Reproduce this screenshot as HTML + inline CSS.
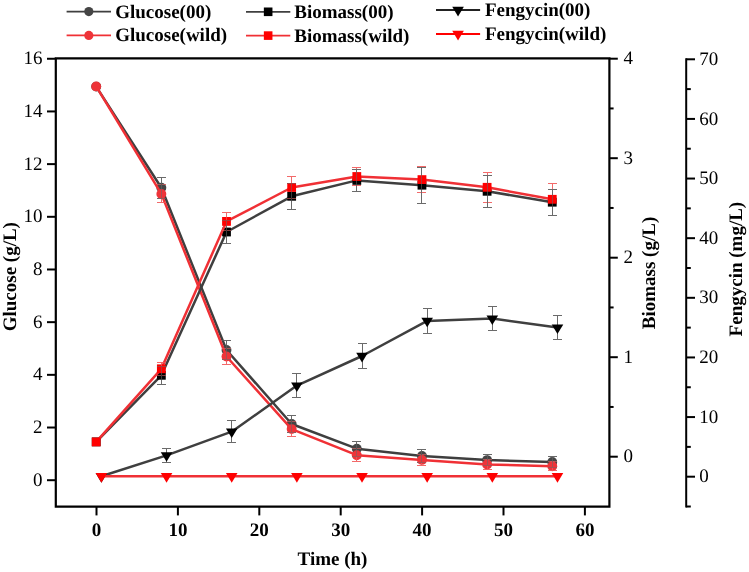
<!DOCTYPE html>
<html><head><meta charset="utf-8"><style>
html,body{margin:0;padding:0;background:#fff;}
svg{display:block;will-change:transform;}
text{font-family:"Liberation Serif",serif;fill:#000;text-rendering:geometricPrecision;}
</style></head><body>
<svg width="749" height="572" viewBox="0 0 749 572">
<rect width="749" height="572" fill="#fff"/>
<path d="M55.8,58.3 H609.4 V506.6 H55.8 Z" fill="none" stroke="#000" stroke-width="2.2"/>
<line x1="47.00" y1="480.20" x2="55.80" y2="480.20" stroke="#000" stroke-width="2" />
<text x="42.60" y="485.80" font-size="19" font-weight="normal" text-anchor="end" >0</text>
<line x1="47.00" y1="427.52" x2="55.80" y2="427.52" stroke="#000" stroke-width="2" />
<text x="42.60" y="433.12" font-size="19" font-weight="normal" text-anchor="end" >2</text>
<line x1="47.00" y1="374.84" x2="55.80" y2="374.84" stroke="#000" stroke-width="2" />
<text x="42.60" y="380.44" font-size="19" font-weight="normal" text-anchor="end" >4</text>
<line x1="47.00" y1="322.16" x2="55.80" y2="322.16" stroke="#000" stroke-width="2" />
<text x="42.60" y="327.76" font-size="19" font-weight="normal" text-anchor="end" >6</text>
<line x1="47.00" y1="269.48" x2="55.80" y2="269.48" stroke="#000" stroke-width="2" />
<text x="42.60" y="275.08" font-size="19" font-weight="normal" text-anchor="end" >8</text>
<line x1="47.00" y1="216.80" x2="55.80" y2="216.80" stroke="#000" stroke-width="2" />
<text x="42.60" y="222.40" font-size="19" font-weight="normal" text-anchor="end" >10</text>
<line x1="47.00" y1="164.12" x2="55.80" y2="164.12" stroke="#000" stroke-width="2" />
<text x="42.60" y="169.72" font-size="19" font-weight="normal" text-anchor="end" >12</text>
<line x1="47.00" y1="111.44" x2="55.80" y2="111.44" stroke="#000" stroke-width="2" />
<text x="42.60" y="117.04" font-size="19" font-weight="normal" text-anchor="end" >14</text>
<line x1="47.00" y1="58.76" x2="55.80" y2="58.76" stroke="#000" stroke-width="2" />
<text x="42.60" y="64.36" font-size="19" font-weight="normal" text-anchor="end" >16</text>
<line x1="96.50" y1="506.60" x2="96.50" y2="515.40" stroke="#000" stroke-width="2" />
<text x="96.50" y="536.10" font-size="19" font-weight="bold" text-anchor="middle" >0</text>
<line x1="177.90" y1="506.60" x2="177.90" y2="515.40" stroke="#000" stroke-width="2" />
<text x="177.90" y="536.10" font-size="19" font-weight="bold" text-anchor="middle" >10</text>
<line x1="259.30" y1="506.60" x2="259.30" y2="515.40" stroke="#000" stroke-width="2" />
<text x="259.30" y="536.10" font-size="19" font-weight="bold" text-anchor="middle" >20</text>
<line x1="340.70" y1="506.60" x2="340.70" y2="515.40" stroke="#000" stroke-width="2" />
<text x="340.70" y="536.10" font-size="19" font-weight="bold" text-anchor="middle" >30</text>
<line x1="422.10" y1="506.60" x2="422.10" y2="515.40" stroke="#000" stroke-width="2" />
<text x="422.10" y="536.10" font-size="19" font-weight="bold" text-anchor="middle" >40</text>
<line x1="503.50" y1="506.60" x2="503.50" y2="515.40" stroke="#000" stroke-width="2" />
<text x="503.50" y="536.10" font-size="19" font-weight="bold" text-anchor="middle" >50</text>
<line x1="584.90" y1="506.60" x2="584.90" y2="515.40" stroke="#000" stroke-width="2" />
<text x="584.90" y="536.10" font-size="19" font-weight="bold" text-anchor="middle" >60</text>
<line x1="609.40" y1="456.70" x2="617.80" y2="456.70" stroke="#000" stroke-width="2" />
<text x="623.60" y="462.30" font-size="19" font-weight="normal" text-anchor="start" >0</text>
<line x1="609.40" y1="406.95" x2="613.60" y2="406.95" stroke="#000" stroke-width="2" />
<line x1="609.40" y1="357.20" x2="617.80" y2="357.20" stroke="#000" stroke-width="2" />
<text x="623.60" y="362.80" font-size="19" font-weight="normal" text-anchor="start" >1</text>
<line x1="609.40" y1="307.45" x2="613.60" y2="307.45" stroke="#000" stroke-width="2" />
<line x1="609.40" y1="257.70" x2="617.80" y2="257.70" stroke="#000" stroke-width="2" />
<text x="623.60" y="263.30" font-size="19" font-weight="normal" text-anchor="start" >2</text>
<line x1="609.40" y1="207.95" x2="613.60" y2="207.95" stroke="#000" stroke-width="2" />
<line x1="609.40" y1="158.20" x2="617.80" y2="158.20" stroke="#000" stroke-width="2" />
<text x="623.60" y="163.80" font-size="19" font-weight="normal" text-anchor="start" >3</text>
<line x1="609.40" y1="108.45" x2="613.60" y2="108.45" stroke="#000" stroke-width="2" />
<line x1="609.40" y1="58.70" x2="617.80" y2="58.70" stroke="#000" stroke-width="2" />
<text x="623.60" y="64.30" font-size="19" font-weight="normal" text-anchor="start" >4</text>
<line x1="686.20" y1="58.29" x2="686.20" y2="507.51" stroke="#000" stroke-width="2" />
<line x1="686.20" y1="506.51" x2="690.80" y2="506.51" stroke="#000" stroke-width="2" />
<line x1="686.20" y1="476.70" x2="695.00" y2="476.70" stroke="#000" stroke-width="2" />
<text x="699.20" y="482.30" font-size="19" font-weight="normal" text-anchor="start" >0</text>
<line x1="686.20" y1="446.88" x2="690.80" y2="446.88" stroke="#000" stroke-width="2" />
<line x1="686.20" y1="417.07" x2="695.00" y2="417.07" stroke="#000" stroke-width="2" />
<text x="699.20" y="422.67" font-size="19" font-weight="normal" text-anchor="start" >10</text>
<line x1="686.20" y1="387.25" x2="690.80" y2="387.25" stroke="#000" stroke-width="2" />
<line x1="686.20" y1="357.44" x2="695.00" y2="357.44" stroke="#000" stroke-width="2" />
<text x="699.20" y="363.04" font-size="19" font-weight="normal" text-anchor="start" >20</text>
<line x1="686.20" y1="327.62" x2="690.80" y2="327.62" stroke="#000" stroke-width="2" />
<line x1="686.20" y1="297.81" x2="695.00" y2="297.81" stroke="#000" stroke-width="2" />
<text x="699.20" y="303.41" font-size="19" font-weight="normal" text-anchor="start" >30</text>
<line x1="686.20" y1="268.00" x2="690.80" y2="268.00" stroke="#000" stroke-width="2" />
<line x1="686.20" y1="238.18" x2="695.00" y2="238.18" stroke="#000" stroke-width="2" />
<text x="699.20" y="243.78" font-size="19" font-weight="normal" text-anchor="start" >40</text>
<line x1="686.20" y1="208.37" x2="690.80" y2="208.37" stroke="#000" stroke-width="2" />
<line x1="686.20" y1="178.55" x2="695.00" y2="178.55" stroke="#000" stroke-width="2" />
<text x="699.20" y="184.15" font-size="19" font-weight="normal" text-anchor="start" >50</text>
<line x1="686.20" y1="148.73" x2="690.80" y2="148.73" stroke="#000" stroke-width="2" />
<line x1="686.20" y1="118.92" x2="695.00" y2="118.92" stroke="#000" stroke-width="2" />
<text x="699.20" y="124.52" font-size="19" font-weight="normal" text-anchor="start" >60</text>
<line x1="686.20" y1="89.10" x2="690.80" y2="89.10" stroke="#000" stroke-width="2" />
<line x1="686.20" y1="59.29" x2="695.00" y2="59.29" stroke="#000" stroke-width="2" />
<text x="699.20" y="64.89" font-size="19" font-weight="normal" text-anchor="start" >70</text>
<text x="332.50" y="565.20" font-size="19" font-weight="bold" text-anchor="middle" >Time (h)</text>
<text x="0.00" y="0.00" font-size="19" font-weight="bold" text-anchor="middle" transform="translate(16,276.7) rotate(-90)">Glucose (g/L)</text>
<text x="0.00" y="0.00" font-size="19" font-weight="bold" text-anchor="middle" transform="translate(655,273) rotate(-90)">Biomass (g/L)</text>
<text x="0.00" y="0.00" font-size="19" font-weight="bold" text-anchor="middle" transform="translate(741.7,269.1) rotate(-90)">Fengycin (mg/L)</text>
<line x1="161.50" y1="184.50" x2="161.50" y2="202.50" stroke="#f26a6a" stroke-width="1" />
<line x1="157.00" y1="184.50" x2="166.00" y2="184.50" stroke="#f26a6a" stroke-width="1" />
<line x1="157.00" y1="202.50" x2="166.00" y2="202.50" stroke="#f26a6a" stroke-width="1" />
<line x1="226.50" y1="348.50" x2="226.50" y2="364.50" stroke="#f26a6a" stroke-width="1" />
<line x1="222.00" y1="348.50" x2="231.00" y2="348.50" stroke="#f26a6a" stroke-width="1" />
<line x1="222.00" y1="364.50" x2="231.00" y2="364.50" stroke="#f26a6a" stroke-width="1" />
<line x1="291.50" y1="421.50" x2="291.50" y2="436.50" stroke="#f26a6a" stroke-width="1" />
<line x1="287.00" y1="421.50" x2="296.00" y2="421.50" stroke="#f26a6a" stroke-width="1" />
<line x1="287.00" y1="436.50" x2="296.00" y2="436.50" stroke="#f26a6a" stroke-width="1" />
<line x1="356.50" y1="448.50" x2="356.50" y2="461.50" stroke="#f26a6a" stroke-width="1" />
<line x1="352.00" y1="448.50" x2="361.00" y2="448.50" stroke="#f26a6a" stroke-width="1" />
<line x1="352.00" y1="461.50" x2="361.00" y2="461.50" stroke="#f26a6a" stroke-width="1" />
<line x1="421.50" y1="454.50" x2="421.50" y2="465.50" stroke="#f26a6a" stroke-width="1" />
<line x1="417.00" y1="454.50" x2="426.00" y2="454.50" stroke="#f26a6a" stroke-width="1" />
<line x1="417.00" y1="465.50" x2="426.00" y2="465.50" stroke="#f26a6a" stroke-width="1" />
<line x1="487.50" y1="459.50" x2="487.50" y2="469.50" stroke="#f26a6a" stroke-width="1" />
<line x1="483.00" y1="459.50" x2="492.00" y2="459.50" stroke="#f26a6a" stroke-width="1" />
<line x1="483.00" y1="469.50" x2="492.00" y2="469.50" stroke="#f26a6a" stroke-width="1" />
<line x1="552.50" y1="461.50" x2="552.50" y2="470.50" stroke="#f26a6a" stroke-width="1" />
<line x1="548.00" y1="461.50" x2="557.00" y2="461.50" stroke="#f26a6a" stroke-width="1" />
<line x1="548.00" y1="470.50" x2="557.00" y2="470.50" stroke="#f26a6a" stroke-width="1" />
<line x1="161.50" y1="362.50" x2="161.50" y2="375.50" stroke="#f26a6a" stroke-width="1" />
<line x1="157.00" y1="362.50" x2="166.00" y2="362.50" stroke="#f26a6a" stroke-width="1" />
<line x1="157.00" y1="375.50" x2="166.00" y2="375.50" stroke="#f26a6a" stroke-width="1" />
<line x1="226.50" y1="212.50" x2="226.50" y2="230.50" stroke="#f26a6a" stroke-width="1" />
<line x1="222.00" y1="212.50" x2="231.00" y2="212.50" stroke="#f26a6a" stroke-width="1" />
<line x1="222.00" y1="230.50" x2="231.00" y2="230.50" stroke="#f26a6a" stroke-width="1" />
<line x1="291.50" y1="176.50" x2="291.50" y2="198.50" stroke="#f26a6a" stroke-width="1" />
<line x1="287.00" y1="176.50" x2="296.00" y2="176.50" stroke="#f26a6a" stroke-width="1" />
<line x1="287.00" y1="198.50" x2="296.00" y2="198.50" stroke="#f26a6a" stroke-width="1" />
<line x1="356.50" y1="167.50" x2="356.50" y2="185.50" stroke="#f26a6a" stroke-width="1" />
<line x1="352.00" y1="167.50" x2="361.00" y2="167.50" stroke="#f26a6a" stroke-width="1" />
<line x1="352.00" y1="185.50" x2="361.00" y2="185.50" stroke="#f26a6a" stroke-width="1" />
<line x1="421.50" y1="166.50" x2="421.50" y2="192.50" stroke="#f26a6a" stroke-width="1" />
<line x1="417.00" y1="166.50" x2="426.00" y2="166.50" stroke="#f26a6a" stroke-width="1" />
<line x1="417.00" y1="192.50" x2="426.00" y2="192.50" stroke="#f26a6a" stroke-width="1" />
<line x1="487.50" y1="172.50" x2="487.50" y2="202.50" stroke="#f26a6a" stroke-width="1" />
<line x1="483.00" y1="172.50" x2="492.00" y2="172.50" stroke="#f26a6a" stroke-width="1" />
<line x1="483.00" y1="202.50" x2="492.00" y2="202.50" stroke="#f26a6a" stroke-width="1" />
<line x1="552.50" y1="183.50" x2="552.50" y2="215.50" stroke="#f26a6a" stroke-width="1" />
<line x1="548.00" y1="183.50" x2="557.00" y2="183.50" stroke="#f26a6a" stroke-width="1" />
<line x1="548.00" y1="215.50" x2="557.00" y2="215.50" stroke="#f26a6a" stroke-width="1" />
<line x1="161.50" y1="177.50" x2="161.50" y2="198.50" stroke="#6a6a6a" stroke-width="1" />
<line x1="157.00" y1="177.50" x2="166.00" y2="177.50" stroke="#6a6a6a" stroke-width="1" />
<line x1="157.00" y1="198.50" x2="166.00" y2="198.50" stroke="#6a6a6a" stroke-width="1" />
<line x1="226.50" y1="340.50" x2="226.50" y2="359.50" stroke="#6a6a6a" stroke-width="1" />
<line x1="222.00" y1="340.50" x2="231.00" y2="340.50" stroke="#6a6a6a" stroke-width="1" />
<line x1="222.00" y1="359.50" x2="231.00" y2="359.50" stroke="#6a6a6a" stroke-width="1" />
<line x1="291.50" y1="415.50" x2="291.50" y2="432.50" stroke="#6a6a6a" stroke-width="1" />
<line x1="287.00" y1="415.50" x2="296.00" y2="415.50" stroke="#6a6a6a" stroke-width="1" />
<line x1="287.00" y1="432.50" x2="296.00" y2="432.50" stroke="#6a6a6a" stroke-width="1" />
<line x1="356.50" y1="441.50" x2="356.50" y2="456.50" stroke="#6a6a6a" stroke-width="1" />
<line x1="352.00" y1="441.50" x2="361.00" y2="441.50" stroke="#6a6a6a" stroke-width="1" />
<line x1="352.00" y1="456.50" x2="361.00" y2="456.50" stroke="#6a6a6a" stroke-width="1" />
<line x1="421.50" y1="449.50" x2="421.50" y2="462.50" stroke="#6a6a6a" stroke-width="1" />
<line x1="417.00" y1="449.50" x2="426.00" y2="449.50" stroke="#6a6a6a" stroke-width="1" />
<line x1="417.00" y1="462.50" x2="426.00" y2="462.50" stroke="#6a6a6a" stroke-width="1" />
<line x1="487.50" y1="454.50" x2="487.50" y2="465.50" stroke="#6a6a6a" stroke-width="1" />
<line x1="483.00" y1="454.50" x2="492.00" y2="454.50" stroke="#6a6a6a" stroke-width="1" />
<line x1="483.00" y1="465.50" x2="492.00" y2="465.50" stroke="#6a6a6a" stroke-width="1" />
<line x1="552.50" y1="456.50" x2="552.50" y2="467.50" stroke="#6a6a6a" stroke-width="1" />
<line x1="548.00" y1="456.50" x2="557.00" y2="456.50" stroke="#6a6a6a" stroke-width="1" />
<line x1="548.00" y1="467.50" x2="557.00" y2="467.50" stroke="#6a6a6a" stroke-width="1" />
<line x1="161.50" y1="366.50" x2="161.50" y2="384.50" stroke="#6a6a6a" stroke-width="1" />
<line x1="157.00" y1="366.50" x2="166.00" y2="366.50" stroke="#6a6a6a" stroke-width="1" />
<line x1="157.00" y1="384.50" x2="166.00" y2="384.50" stroke="#6a6a6a" stroke-width="1" />
<line x1="226.50" y1="220.50" x2="226.50" y2="243.50" stroke="#6a6a6a" stroke-width="1" />
<line x1="222.00" y1="220.50" x2="231.00" y2="220.50" stroke="#6a6a6a" stroke-width="1" />
<line x1="222.00" y1="243.50" x2="231.00" y2="243.50" stroke="#6a6a6a" stroke-width="1" />
<line x1="291.50" y1="183.50" x2="291.50" y2="209.50" stroke="#6a6a6a" stroke-width="1" />
<line x1="287.00" y1="183.50" x2="296.00" y2="183.50" stroke="#6a6a6a" stroke-width="1" />
<line x1="287.00" y1="209.50" x2="296.00" y2="209.50" stroke="#6a6a6a" stroke-width="1" />
<line x1="356.50" y1="169.50" x2="356.50" y2="191.50" stroke="#6a6a6a" stroke-width="1" />
<line x1="352.00" y1="169.50" x2="361.00" y2="169.50" stroke="#6a6a6a" stroke-width="1" />
<line x1="352.00" y1="191.50" x2="361.00" y2="191.50" stroke="#6a6a6a" stroke-width="1" />
<line x1="421.50" y1="167.50" x2="421.50" y2="203.50" stroke="#6a6a6a" stroke-width="1" />
<line x1="417.00" y1="167.50" x2="426.00" y2="167.50" stroke="#6a6a6a" stroke-width="1" />
<line x1="417.00" y1="203.50" x2="426.00" y2="203.50" stroke="#6a6a6a" stroke-width="1" />
<line x1="487.50" y1="175.50" x2="487.50" y2="207.50" stroke="#6a6a6a" stroke-width="1" />
<line x1="483.00" y1="175.50" x2="492.00" y2="175.50" stroke="#6a6a6a" stroke-width="1" />
<line x1="483.00" y1="207.50" x2="492.00" y2="207.50" stroke="#6a6a6a" stroke-width="1" />
<line x1="552.50" y1="189.50" x2="552.50" y2="215.50" stroke="#6a6a6a" stroke-width="1" />
<line x1="548.00" y1="189.50" x2="557.00" y2="189.50" stroke="#6a6a6a" stroke-width="1" />
<line x1="548.00" y1="215.50" x2="557.00" y2="215.50" stroke="#6a6a6a" stroke-width="1" />
<polyline fill="none" stroke="#3f3f3f" stroke-width="2.5" stroke-linejoin="round" points="96.20,86.60 161.35,187.80 226.50,350.00 291.66,424.00 356.81,448.70 421.96,455.90 487.11,460.10 552.26,461.90"/>
<circle cx="96.20" cy="86.60" r="4.95" fill="#454545"/>
<circle cx="161.35" cy="187.80" r="4.95" fill="#454545"/>
<circle cx="226.50" cy="350.00" r="4.95" fill="#454545"/>
<circle cx="291.66" cy="424.00" r="4.95" fill="#454545"/>
<circle cx="356.81" cy="448.70" r="4.95" fill="#454545"/>
<circle cx="421.96" cy="455.90" r="4.95" fill="#454545"/>
<circle cx="487.11" cy="460.10" r="4.95" fill="#454545"/>
<circle cx="552.26" cy="461.90" r="4.95" fill="#454545"/>
<polyline fill="none" stroke="#f03035" stroke-width="2.5" stroke-linejoin="round" points="96.20,86.40 161.35,193.90 226.50,356.50 291.66,429.10 356.81,455.20 421.96,459.90 487.11,464.50 552.26,466.20"/>
<circle cx="96.20" cy="86.40" r="4.95" fill="#ee3439"/>
<circle cx="161.35" cy="193.90" r="4.95" fill="#ee3439"/>
<circle cx="226.50" cy="356.50" r="4.95" fill="#ee3439"/>
<circle cx="291.66" cy="429.10" r="4.95" fill="#ee3439"/>
<circle cx="356.81" cy="455.20" r="4.95" fill="#ee3439"/>
<circle cx="421.96" cy="459.90" r="4.95" fill="#ee3439"/>
<circle cx="487.11" cy="464.50" r="4.95" fill="#ee3439"/>
<circle cx="552.26" cy="466.20" r="4.95" fill="#ee3439"/>
<polyline fill="none" stroke="#3f3f3f" stroke-width="2.5" stroke-linejoin="round" points="96.20,441.90 161.35,375.30 226.50,232.00 291.66,196.30 356.81,180.40 421.96,185.20 487.11,191.30 552.26,202.20"/>
<rect x="91.80" y="437.50" width="8.8" height="8.8" fill="#000"/>
<rect x="156.95" y="370.90" width="8.8" height="8.8" fill="#000"/>
<rect x="222.10" y="227.60" width="8.8" height="8.8" fill="#000"/>
<rect x="287.26" y="191.90" width="8.8" height="8.8" fill="#000"/>
<rect x="352.41" y="176.00" width="8.8" height="8.8" fill="#000"/>
<rect x="417.56" y="180.80" width="8.8" height="8.8" fill="#000"/>
<rect x="482.71" y="186.90" width="8.8" height="8.8" fill="#000"/>
<rect x="547.86" y="197.80" width="8.8" height="8.8" fill="#000"/>
<polyline fill="none" stroke="#f03035" stroke-width="2.5" stroke-linejoin="round" points="96.20,441.90 161.35,368.80 226.50,221.40 291.66,187.50 356.81,176.50 421.96,179.60 487.11,187.30 552.26,199.30"/>
<rect x="91.80" y="437.50" width="8.8" height="8.8" fill="#ff0000"/>
<rect x="156.95" y="364.40" width="8.8" height="8.8" fill="#ff0000"/>
<rect x="222.10" y="217.00" width="8.8" height="8.8" fill="#ff0000"/>
<rect x="287.26" y="183.10" width="8.8" height="8.8" fill="#ff0000"/>
<rect x="352.41" y="172.10" width="8.8" height="8.8" fill="#ff0000"/>
<rect x="417.56" y="175.20" width="8.8" height="8.8" fill="#ff0000"/>
<rect x="482.71" y="182.90" width="8.8" height="8.8" fill="#ff0000"/>
<rect x="547.86" y="194.90" width="8.8" height="8.8" fill="#ff0000"/>
<g opacity="0.55">
<line x1="161.50" y1="184.50" x2="161.50" y2="202.50" stroke="#f26a6a" stroke-width="1" />
<line x1="157.00" y1="184.50" x2="166.00" y2="184.50" stroke="#f26a6a" stroke-width="1" />
<line x1="157.00" y1="202.50" x2="166.00" y2="202.50" stroke="#f26a6a" stroke-width="1" />
<line x1="226.50" y1="348.50" x2="226.50" y2="364.50" stroke="#f26a6a" stroke-width="1" />
<line x1="222.00" y1="348.50" x2="231.00" y2="348.50" stroke="#f26a6a" stroke-width="1" />
<line x1="222.00" y1="364.50" x2="231.00" y2="364.50" stroke="#f26a6a" stroke-width="1" />
<line x1="291.50" y1="421.50" x2="291.50" y2="436.50" stroke="#f26a6a" stroke-width="1" />
<line x1="287.00" y1="421.50" x2="296.00" y2="421.50" stroke="#f26a6a" stroke-width="1" />
<line x1="287.00" y1="436.50" x2="296.00" y2="436.50" stroke="#f26a6a" stroke-width="1" />
<line x1="356.50" y1="448.50" x2="356.50" y2="461.50" stroke="#f26a6a" stroke-width="1" />
<line x1="352.00" y1="448.50" x2="361.00" y2="448.50" stroke="#f26a6a" stroke-width="1" />
<line x1="352.00" y1="461.50" x2="361.00" y2="461.50" stroke="#f26a6a" stroke-width="1" />
<line x1="421.50" y1="454.50" x2="421.50" y2="465.50" stroke="#f26a6a" stroke-width="1" />
<line x1="417.00" y1="454.50" x2="426.00" y2="454.50" stroke="#f26a6a" stroke-width="1" />
<line x1="417.00" y1="465.50" x2="426.00" y2="465.50" stroke="#f26a6a" stroke-width="1" />
<line x1="487.50" y1="459.50" x2="487.50" y2="469.50" stroke="#f26a6a" stroke-width="1" />
<line x1="483.00" y1="459.50" x2="492.00" y2="459.50" stroke="#f26a6a" stroke-width="1" />
<line x1="483.00" y1="469.50" x2="492.00" y2="469.50" stroke="#f26a6a" stroke-width="1" />
<line x1="552.50" y1="461.50" x2="552.50" y2="470.50" stroke="#f26a6a" stroke-width="1" />
<line x1="548.00" y1="461.50" x2="557.00" y2="461.50" stroke="#f26a6a" stroke-width="1" />
<line x1="548.00" y1="470.50" x2="557.00" y2="470.50" stroke="#f26a6a" stroke-width="1" />
<line x1="161.50" y1="362.50" x2="161.50" y2="375.50" stroke="#f26a6a" stroke-width="1" />
<line x1="157.00" y1="362.50" x2="166.00" y2="362.50" stroke="#f26a6a" stroke-width="1" />
<line x1="157.00" y1="375.50" x2="166.00" y2="375.50" stroke="#f26a6a" stroke-width="1" />
<line x1="226.50" y1="212.50" x2="226.50" y2="230.50" stroke="#f26a6a" stroke-width="1" />
<line x1="222.00" y1="212.50" x2="231.00" y2="212.50" stroke="#f26a6a" stroke-width="1" />
<line x1="222.00" y1="230.50" x2="231.00" y2="230.50" stroke="#f26a6a" stroke-width="1" />
<line x1="291.50" y1="176.50" x2="291.50" y2="198.50" stroke="#f26a6a" stroke-width="1" />
<line x1="287.00" y1="176.50" x2="296.00" y2="176.50" stroke="#f26a6a" stroke-width="1" />
<line x1="287.00" y1="198.50" x2="296.00" y2="198.50" stroke="#f26a6a" stroke-width="1" />
<line x1="356.50" y1="167.50" x2="356.50" y2="185.50" stroke="#f26a6a" stroke-width="1" />
<line x1="352.00" y1="167.50" x2="361.00" y2="167.50" stroke="#f26a6a" stroke-width="1" />
<line x1="352.00" y1="185.50" x2="361.00" y2="185.50" stroke="#f26a6a" stroke-width="1" />
<line x1="421.50" y1="166.50" x2="421.50" y2="192.50" stroke="#f26a6a" stroke-width="1" />
<line x1="417.00" y1="166.50" x2="426.00" y2="166.50" stroke="#f26a6a" stroke-width="1" />
<line x1="417.00" y1="192.50" x2="426.00" y2="192.50" stroke="#f26a6a" stroke-width="1" />
<line x1="487.50" y1="172.50" x2="487.50" y2="202.50" stroke="#f26a6a" stroke-width="1" />
<line x1="483.00" y1="172.50" x2="492.00" y2="172.50" stroke="#f26a6a" stroke-width="1" />
<line x1="483.00" y1="202.50" x2="492.00" y2="202.50" stroke="#f26a6a" stroke-width="1" />
<line x1="552.50" y1="183.50" x2="552.50" y2="215.50" stroke="#f26a6a" stroke-width="1" />
<line x1="548.00" y1="183.50" x2="557.00" y2="183.50" stroke="#f26a6a" stroke-width="1" />
<line x1="548.00" y1="215.50" x2="557.00" y2="215.50" stroke="#f26a6a" stroke-width="1" />
<line x1="161.50" y1="177.50" x2="161.50" y2="198.50" stroke="#6a6a6a" stroke-width="1" />
<line x1="157.00" y1="177.50" x2="166.00" y2="177.50" stroke="#6a6a6a" stroke-width="1" />
<line x1="157.00" y1="198.50" x2="166.00" y2="198.50" stroke="#6a6a6a" stroke-width="1" />
<line x1="226.50" y1="340.50" x2="226.50" y2="359.50" stroke="#6a6a6a" stroke-width="1" />
<line x1="222.00" y1="340.50" x2="231.00" y2="340.50" stroke="#6a6a6a" stroke-width="1" />
<line x1="222.00" y1="359.50" x2="231.00" y2="359.50" stroke="#6a6a6a" stroke-width="1" />
<line x1="291.50" y1="415.50" x2="291.50" y2="432.50" stroke="#6a6a6a" stroke-width="1" />
<line x1="287.00" y1="415.50" x2="296.00" y2="415.50" stroke="#6a6a6a" stroke-width="1" />
<line x1="287.00" y1="432.50" x2="296.00" y2="432.50" stroke="#6a6a6a" stroke-width="1" />
<line x1="356.50" y1="441.50" x2="356.50" y2="456.50" stroke="#6a6a6a" stroke-width="1" />
<line x1="352.00" y1="441.50" x2="361.00" y2="441.50" stroke="#6a6a6a" stroke-width="1" />
<line x1="352.00" y1="456.50" x2="361.00" y2="456.50" stroke="#6a6a6a" stroke-width="1" />
<line x1="421.50" y1="449.50" x2="421.50" y2="462.50" stroke="#6a6a6a" stroke-width="1" />
<line x1="417.00" y1="449.50" x2="426.00" y2="449.50" stroke="#6a6a6a" stroke-width="1" />
<line x1="417.00" y1="462.50" x2="426.00" y2="462.50" stroke="#6a6a6a" stroke-width="1" />
<line x1="487.50" y1="454.50" x2="487.50" y2="465.50" stroke="#6a6a6a" stroke-width="1" />
<line x1="483.00" y1="454.50" x2="492.00" y2="454.50" stroke="#6a6a6a" stroke-width="1" />
<line x1="483.00" y1="465.50" x2="492.00" y2="465.50" stroke="#6a6a6a" stroke-width="1" />
<line x1="552.50" y1="456.50" x2="552.50" y2="467.50" stroke="#6a6a6a" stroke-width="1" />
<line x1="548.00" y1="456.50" x2="557.00" y2="456.50" stroke="#6a6a6a" stroke-width="1" />
<line x1="548.00" y1="467.50" x2="557.00" y2="467.50" stroke="#6a6a6a" stroke-width="1" />
<line x1="161.50" y1="366.50" x2="161.50" y2="384.50" stroke="#6a6a6a" stroke-width="1" />
<line x1="157.00" y1="366.50" x2="166.00" y2="366.50" stroke="#6a6a6a" stroke-width="1" />
<line x1="157.00" y1="384.50" x2="166.00" y2="384.50" stroke="#6a6a6a" stroke-width="1" />
<line x1="226.50" y1="220.50" x2="226.50" y2="243.50" stroke="#6a6a6a" stroke-width="1" />
<line x1="222.00" y1="220.50" x2="231.00" y2="220.50" stroke="#6a6a6a" stroke-width="1" />
<line x1="222.00" y1="243.50" x2="231.00" y2="243.50" stroke="#6a6a6a" stroke-width="1" />
<line x1="291.50" y1="183.50" x2="291.50" y2="209.50" stroke="#6a6a6a" stroke-width="1" />
<line x1="287.00" y1="183.50" x2="296.00" y2="183.50" stroke="#6a6a6a" stroke-width="1" />
<line x1="287.00" y1="209.50" x2="296.00" y2="209.50" stroke="#6a6a6a" stroke-width="1" />
<line x1="356.50" y1="169.50" x2="356.50" y2="191.50" stroke="#6a6a6a" stroke-width="1" />
<line x1="352.00" y1="169.50" x2="361.00" y2="169.50" stroke="#6a6a6a" stroke-width="1" />
<line x1="352.00" y1="191.50" x2="361.00" y2="191.50" stroke="#6a6a6a" stroke-width="1" />
<line x1="421.50" y1="167.50" x2="421.50" y2="203.50" stroke="#6a6a6a" stroke-width="1" />
<line x1="417.00" y1="167.50" x2="426.00" y2="167.50" stroke="#6a6a6a" stroke-width="1" />
<line x1="417.00" y1="203.50" x2="426.00" y2="203.50" stroke="#6a6a6a" stroke-width="1" />
<line x1="487.50" y1="175.50" x2="487.50" y2="207.50" stroke="#6a6a6a" stroke-width="1" />
<line x1="483.00" y1="175.50" x2="492.00" y2="175.50" stroke="#6a6a6a" stroke-width="1" />
<line x1="483.00" y1="207.50" x2="492.00" y2="207.50" stroke="#6a6a6a" stroke-width="1" />
<line x1="552.50" y1="189.50" x2="552.50" y2="215.50" stroke="#6a6a6a" stroke-width="1" />
<line x1="548.00" y1="189.50" x2="557.00" y2="189.50" stroke="#6a6a6a" stroke-width="1" />
<line x1="548.00" y1="215.50" x2="557.00" y2="215.50" stroke="#6a6a6a" stroke-width="1" />
</g>
<polyline fill="none" stroke="#3f3f3f" stroke-width="2.5" stroke-linejoin="round" points="101.41,476.30 166.56,455.40 231.72,431.70 296.87,385.60 362.02,356.00 427.17,320.90 492.32,318.60 557.48,327.60"/>
<line x1="166.50" y1="448.50" x2="166.50" y2="462.50" stroke="#6a6a6a" stroke-width="1" />
<line x1="162.00" y1="448.50" x2="171.00" y2="448.50" stroke="#6a6a6a" stroke-width="1" />
<line x1="162.00" y1="462.50" x2="171.00" y2="462.50" stroke="#6a6a6a" stroke-width="1" />
<line x1="231.50" y1="420.50" x2="231.50" y2="442.50" stroke="#6a6a6a" stroke-width="1" />
<line x1="227.00" y1="420.50" x2="236.00" y2="420.50" stroke="#6a6a6a" stroke-width="1" />
<line x1="227.00" y1="442.50" x2="236.00" y2="442.50" stroke="#6a6a6a" stroke-width="1" />
<line x1="296.50" y1="373.50" x2="296.50" y2="397.50" stroke="#6a6a6a" stroke-width="1" />
<line x1="292.00" y1="373.50" x2="301.00" y2="373.50" stroke="#6a6a6a" stroke-width="1" />
<line x1="292.00" y1="397.50" x2="301.00" y2="397.50" stroke="#6a6a6a" stroke-width="1" />
<line x1="362.50" y1="343.50" x2="362.50" y2="368.50" stroke="#6a6a6a" stroke-width="1" />
<line x1="358.00" y1="343.50" x2="367.00" y2="343.50" stroke="#6a6a6a" stroke-width="1" />
<line x1="358.00" y1="368.50" x2="367.00" y2="368.50" stroke="#6a6a6a" stroke-width="1" />
<line x1="427.50" y1="308.50" x2="427.50" y2="333.50" stroke="#6a6a6a" stroke-width="1" />
<line x1="423.00" y1="308.50" x2="432.00" y2="308.50" stroke="#6a6a6a" stroke-width="1" />
<line x1="423.00" y1="333.50" x2="432.00" y2="333.50" stroke="#6a6a6a" stroke-width="1" />
<line x1="492.50" y1="306.50" x2="492.50" y2="330.50" stroke="#6a6a6a" stroke-width="1" />
<line x1="488.00" y1="306.50" x2="497.00" y2="306.50" stroke="#6a6a6a" stroke-width="1" />
<line x1="488.00" y1="330.50" x2="497.00" y2="330.50" stroke="#6a6a6a" stroke-width="1" />
<line x1="557.50" y1="315.50" x2="557.50" y2="339.50" stroke="#6a6a6a" stroke-width="1" />
<line x1="553.00" y1="315.50" x2="562.00" y2="315.50" stroke="#6a6a6a" stroke-width="1" />
<line x1="553.00" y1="339.50" x2="562.00" y2="339.50" stroke="#6a6a6a" stroke-width="1" />
<polygon fill="#000" points="95.61,473.10 107.21,473.10 101.41,482.70"/>
<polygon fill="#000" points="160.76,452.20 172.36,452.20 166.56,461.80"/>
<polygon fill="#000" points="225.92,428.50 237.52,428.50 231.72,438.10"/>
<polygon fill="#000" points="291.07,382.40 302.67,382.40 296.87,392.00"/>
<polygon fill="#000" points="356.22,352.80 367.82,352.80 362.02,362.40"/>
<polygon fill="#000" points="421.37,317.70 432.97,317.70 427.17,327.30"/>
<polygon fill="#000" points="486.52,315.40 498.12,315.40 492.32,325.00"/>
<polygon fill="#000" points="551.68,324.40 563.28,324.40 557.48,334.00"/>
<polyline fill="none" stroke="#f03035" stroke-width="2.5" stroke-linejoin="round" points="101.41,476.30 166.56,476.30 231.72,476.30 296.87,476.30 362.02,476.30 427.17,476.30 492.32,476.30 557.48,476.30"/>
<polygon fill="#ff0000" points="95.61,473.10 107.21,473.10 101.41,482.70"/>
<polygon fill="#ff0000" points="160.76,473.10 172.36,473.10 166.56,482.70"/>
<polygon fill="#ff0000" points="225.92,473.10 237.52,473.10 231.72,482.70"/>
<polygon fill="#ff0000" points="291.07,473.10 302.67,473.10 296.87,482.70"/>
<polygon fill="#ff0000" points="356.22,473.10 367.82,473.10 362.02,482.70"/>
<polygon fill="#ff0000" points="421.37,473.10 432.97,473.10 427.17,482.70"/>
<polygon fill="#ff0000" points="486.52,473.10 498.12,473.10 492.32,482.70"/>
<polygon fill="#ff0000" points="551.68,473.10 563.28,473.10 557.48,482.70"/>
<line x1="66.60" y1="11.60" x2="111.00" y2="11.60" stroke="#3f3f3f" stroke-width="1.8" />
<circle cx="88.80" cy="11.60" r="4.6" fill="#454545"/>
<text x="115.20" y="17.60" font-size="19" font-weight="bold" text-anchor="start" >Glucose(00)</text>
<line x1="66.60" y1="35.40" x2="111.00" y2="35.40" stroke="#f03035" stroke-width="1.8" />
<circle cx="88.80" cy="35.40" r="4.6" fill="#ee3439"/>
<text x="115.20" y="41.40" font-size="19" font-weight="bold" text-anchor="start" >Glucose(wild)</text>
<line x1="246.00" y1="11.80" x2="290.30" y2="11.80" stroke="#3f3f3f" stroke-width="1.8" />
<rect x="263.85" y="7.50" width="8.6" height="8.6" fill="#000"/>
<text x="294.30" y="17.80" font-size="19" font-weight="bold" text-anchor="start" >Biomass(00)</text>
<line x1="246.00" y1="35.60" x2="290.30" y2="35.60" stroke="#f03035" stroke-width="1.8" />
<rect x="263.85" y="31.30" width="8.6" height="8.6" fill="#ff0000"/>
<text x="294.30" y="41.60" font-size="19" font-weight="bold" text-anchor="start" >Biomass(wild)</text>
<line x1="436.00" y1="10.00" x2="480.10" y2="10.00" stroke="#222" stroke-width="1.8" />
<polygon fill="#000" points="452.25,6.80 463.85,6.80 458.05,16.40"/>
<text x="484.90" y="16.00" font-size="19" font-weight="bold" text-anchor="start" >Fengycin(00)</text>
<line x1="436.00" y1="34.00" x2="480.10" y2="34.00" stroke="#ff0000" stroke-width="1.8" />
<polygon fill="#ff0000" points="452.25,30.80 463.85,30.80 458.05,40.40"/>
<text x="484.90" y="40.00" font-size="19" font-weight="bold" text-anchor="start" >Fengycin(wild)</text>
</svg>
</body></html>
